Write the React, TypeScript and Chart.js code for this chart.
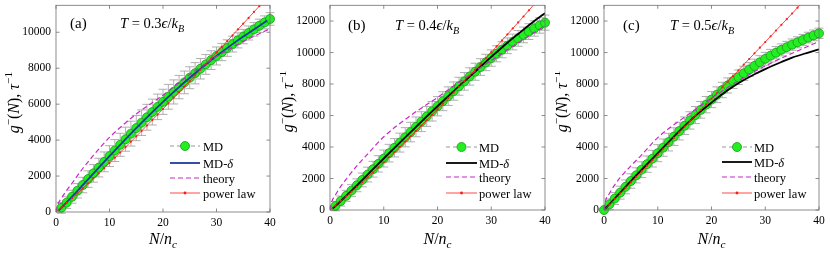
import React, { useEffect, useRef } from "react";
import { Chart, registerables } from "chart.js";
Chart.register(...registerables);

// ---------- data ----------
const MD_N_AB = [1,2,3,4,5,6,7,8,9,10,11,12,13,14,15,16,17,18,19,20,21,22,23,24,25,26,27,28,29,30,31,32,33,34,35,36,37,38,39,40];
const MD_N_C = [0,1,2,3,4,5,6,7,8,9,10,11,12,13,14,15,16,17,18,19,20,21,22,23,24,25,26,27,28,29,30,31,32,33,34,35,36,37,38,39,40];
const PL_N = [0,1,2,3,4,5,6,7,8,9,10,11,12,13,14,15,16,17,18,19,20,21,22,23,24,25,26,27,28,29,30,31,32,33,34,35,36,37,38,39,40];

const X_TICKS = [0, 10, 20, 30, 40];
const Y_TICKS_A = [0, 2000, 4000, 6000, 8000, 10000];
const Y_TICKS_BC = [0, 2000, 4000, 6000, 8000, 10000, 12000];

// panel (a)
const MD_A = [230,520,850,1180,1500,1830,2150,2470,2790,3110,3420,3740,4050,4360,4670,4970,5270,5560,5850,6130,6410,6680,6950,7210,7470,7720,7970,8210,8450,8680,8900,9120,9340,9550,9760,9960,10160,10360,10550,10740];
const ERR_A = [300,330,360,400,430,460,490,520,550,580,610,640,670,690,700,710,720,720,710,700,690,670,650,630,610,590,570,550,520,500,480,460,440,420,400,390,380,370,360,350];
const DELTA_A_N = [0.5,1,3,5,8,10,13,15,18,20,23,25,28,30,33,35,37,39.5];
const DELTA_A = [90,230,850,1500,2470,3110,4050,4670,5560,6130,6950,7470,8210,8680,9340,9760,10160,10650];
const THEORY_A_N = [0,0.3,1,2,3,5,7,10,15,20,25,30,35,40];
const THEORY_A = [0,380,760,1200,1600,2420,3150,4150,5450,6500,7650,8650,9480,10200];
const POWER_A = [0,245,505,770,1040,1310,1590,1870,2150,2440,2730,3020,3310,3610,3910,4210,4510,4810,5120,5420,5730,6040,6350,6660,6970,7290,7600,7920,8240,8550,8870,9190,9510,9830,10160,10480,10800,11130,11450,11780,12100];

// panel (b)
const MD_B = [250,570,900,1230,1570,1910,2250,2590,2930,3270,3610,3950,4280,4620,4950,5280,5610,5940,6270,6590,6910,7230,7550,7860,8170,8480,8780,9080,9370,9650,9920,10180,10430,10670,10900,11120,11330,11530,11720,11900];
const ERR_B = [300,320,350,380,410,440,470,500,520,540,560,580,600,610,620,630,630,630,620,610,600,590,580,570,560,550,540,530,520,520,510,510,500,500,500,500,500,490,490,480];
const DELTA_B_N = [0.5,1,3,5,8,10,13,15,18,20,23,25,28,30,33,35,38,40];
const DELTA_B = [100,250,900,1570,2590,3270,4280,4950,5940,6590,7550,8170,9100,9720,10620,11180,12000,12500];
const THEORY_B_N = [0,0.3,1,2,3,5,7,10,15,20,25,28,30,35,40];
const THEORY_B = [0,500,950,1500,1950,2800,3550,4650,6000,7150,8350,9050,9500,10620,11700];
const POWER_B = [0,280,570,860,1160,1460,1770,2080,2390,2710,3030,3350,3680,4010,4340,4680,5020,5360,5700,6050,6400,6750,7100,7460,7820,8180,8540,8910,9280,9650,10020,10390,10770,11150,11530,11910,12290,12680,13070,13460,13850];

// panel (c)
const MD_C = [0,360,730,1100,1470,1840,2200,2560,2910,3260,3610,3960,4310,4660,5010,5350,5690,6030,6360,6690,7010,7320,7620,7910,8190,8430,8680,8920,9150,9380,9600,9800,9990,10170,10340,10500,10650,10800,10950,11090,11220];
const ERR_C = [100,350,380,410,440,460,480,500,520,530,540,550,560,560,560,560,550,540,530,520,510,500,490,480,470,460,450,440,430,420,410,400,390,380,370,360,350,350,340,340,330];
const DELTA_C_N = [0,2,5,8,10,13,15,17,20,23,25,28,30,33,35,38,40];
const DELTA_C = [0,730,1840,2910,3610,4660,5340,5980,6820,7600,8050,8620,8950,9400,9680,10000,10200];
const THEORY_C_N = [0,0.3,1,2,3,5,7,10,15,20,22,25,30,35,40];
const THEORY_C = [0,600,1050,1600,2050,2800,3500,4600,5900,7100,7550,8200,9150,9950,10700];
const POWER_C = [0,350,700,1050,1400,1750,2100,2450,2800,3160,3510,3870,4220,4580,4930,5290,5640,6000,6360,6710,7070,7430,7790,8150,8510,8870,9230,9590,9950,10310,10670,11030,11400,11760,12120,12480,12850,13210,13580,13940,14310];

const LEGEND_LABELS = ["MD", "MD-", "theory", "power law"];

// ---------- styling ----------
const FONT = '"Liberation Serif", "Times New Roman", serif';
const GREEN = "#22ee22";
const GREEN_EDGE = "#179a17";
const GRAY_LINE = "#8c8c8c";
const ERR_COLOR = "#a6a6a6";
const MAGENTA = "#c828c8";
const RED = "#ff1a1a";
const FRAME = "#707070";

type Run = { t: string; it?: boolean; sub?: boolean; sup?: boolean };

function runFont(r: Run, size: number) {
  const s = r.sub || r.sup ? size * 0.7 : size;
  return `${r.it ? "italic " : ""}${s}px ${FONT}`;
}
function drawRuns(ctx: CanvasRenderingContext2D, runs: Run[], x: number, y: number, size: number, align: "left" | "center") {
  let w = 0;
  for (const r of runs) { ctx.font = runFont(r, size); w += ctx.measureText(r.t).width; }
  let cx = align === "center" ? x - w / 2 : x;
  ctx.textAlign = "left";
  ctx.textBaseline = "alphabetic";
  ctx.fillStyle = "#000";
  for (const r of runs) {
    ctx.font = runFont(r, size);
    const dy = r.sub ? size * 0.25 : r.sup ? -size * 0.42 : 0;
    ctx.fillText(r.t, cx, y + dy);
    cx += ctx.measureText(r.t).width;
  }
}

type Spec = {
  left: number; w: number;
  yw: number; xh: number; padR: number; padT: number;
  yMax: number; yTicks: number[];
  mdN: number[]; md: number[]; err: number[];
  dN: number[]; d: number[]; dColor: string;
  tN: number[]; t: number[];
  pl: number[];
  tag: string; temp: string;
  tagX: number; tempX: number; textY: number;
  legX0: number; legX1: number; legTx: number; legRows: number[];
};

const pts = (xs: number[], ys: number[]) => xs.map((x, i) => ({ x, y: ys[i] }));

function buildConfig(s: Spec): any {
  const plugin = {
    id: "matlabStyle",
    beforeDatasetsDraw(chart: any) {
      const ctx = chart.ctx as CanvasRenderingContext2D;
      const xs = chart.scales.x, ys = chart.scales.y;
      ctx.save();
      ctx.strokeStyle = ERR_COLOR;
      ctx.lineWidth = 0.9;
      s.mdN.forEach((n, i) => {
        const px = xs.getPixelForValue(n);
        const y1 = ys.getPixelForValue(s.md[i] - s.err[i]);
        const y2 = ys.getPixelForValue(s.md[i] + s.err[i]);
        ctx.beginPath();
        ctx.moveTo(px, y1); ctx.lineTo(px, y2);
        ctx.moveTo(px - 4.5, y1); ctx.lineTo(px + 4.5, y1);
        ctx.moveTo(px - 4.5, y2); ctx.lineTo(px + 4.5, y2);
        ctx.stroke();
      });
      ctx.restore();
    },
    afterDraw(chart: any) {
      const ctx = chart.ctx as CanvasRenderingContext2D;
      const { left, right, top, bottom } = chart.chartArea;
      const xs = chart.scales.x, ys = chart.scales.y;
      ctx.save();
      // frame
      ctx.strokeStyle = FRAME;
      ctx.lineWidth = 0.8;
      ctx.strokeRect(left, top, right - left, bottom - top);
      // inward ticks
      ctx.beginPath();
      for (const v of X_TICKS) {
        const px = xs.getPixelForValue(v);
        ctx.moveTo(px, bottom); ctx.lineTo(px, bottom - 3.5);
        ctx.moveTo(px, top); ctx.lineTo(px, top + 3.5);
      }
      for (const v of s.yTicks) {
        const py = ys.getPixelForValue(v);
        ctx.moveTo(left, py); ctx.lineTo(left + 3.5, py);
        ctx.moveTo(right, py); ctx.lineTo(right - 3.5, py);
      }
      ctx.stroke();

      // axis titles
      drawRuns(ctx, [{ t: "N", it: true }, { t: "/" }, { t: "n", it: true }, { t: "c", it: true, sub: true }], (left + right) / 2, 244, 16, "center");
      ctx.save();
      ctx.translate(left - 42, (top + bottom) / 2 - 6);
      ctx.rotate(-Math.PI / 2);
      drawRuns(ctx, [{ t: "g", it: true }, { t: "−", sup: true }, { t: "(" }, { t: "N", it: true }, { t: "), " }, { t: "τ", it: true }, { t: "−1", sup: true }], 0, 5, 16, "center");
      ctx.restore();

      // annotations
      drawRuns(ctx, [{ t: s.tag }], s.tagX, s.textY, 15, "left");
      drawRuns(ctx, [{ t: "T", it: true }, { t: " = " + s.temp }, { t: "ϵ", it: true }, { t: "/" }, { t: "k", it: true }, { t: "B", it: true, sub: true }], s.tempX, s.textY, 14.5, "left");

      // legend
      const x0 = s.legX0, x1 = s.legX1, xm = (x0 + x1) / 2;
      const r = s.legRows;
      ctx.setLineDash([4, 3]);
      ctx.strokeStyle = GRAY_LINE; ctx.lineWidth = 0.9;
      ctx.beginPath(); ctx.moveTo(x0, r[0]); ctx.lineTo(x1, r[0]); ctx.stroke();
      ctx.setLineDash([]);
      ctx.fillStyle = GREEN; ctx.strokeStyle = GREEN_EDGE; ctx.lineWidth = 0.8;
      ctx.beginPath(); ctx.arc(xm, r[0], 4.5, 0, Math.PI * 2); ctx.fill(); ctx.stroke();
      ctx.strokeStyle = s.dColor; ctx.lineWidth = 1.8;
      ctx.beginPath(); ctx.moveTo(x0, r[1]); ctx.lineTo(x1, r[1]); ctx.stroke();
      ctx.setLineDash([5, 3]);
      ctx.strokeStyle = MAGENTA; ctx.lineWidth = 1.2;
      ctx.beginPath(); ctx.moveTo(x0, r[2]); ctx.lineTo(x1, r[2]); ctx.stroke();
      ctx.setLineDash([]);
      ctx.strokeStyle = RED; ctx.lineWidth = 0.8;
      ctx.beginPath(); ctx.moveTo(x0, r[3]); ctx.lineTo(x1, r[3]); ctx.stroke();
      ctx.fillStyle = RED;
      ctx.beginPath(); ctx.arc(xm, r[3], 1.4, 0, Math.PI * 2); ctx.fill();
      drawRuns(ctx, [{ t: LEGEND_LABELS[0] }], s.legTx, r[0] + 4.5, 12.5, "left");
      drawRuns(ctx, [{ t: LEGEND_LABELS[1] }, { t: "δ", it: true }], s.legTx, r[1] + 4.5, 12.5, "left");
      drawRuns(ctx, [{ t: LEGEND_LABELS[2] }], s.legTx, r[2] + 4.5, 12.5, "left");
      drawRuns(ctx, [{ t: LEGEND_LABELS[3] }], s.legTx, r[3] + 4.5, 12.5, "left");
      ctx.restore();
    },
  };

  const tickFont = { family: FONT, size: 11.5 };
  return {
    type: "line",
    data: {
      datasets: [
        {
          label: "power law", data: pts(PL_N, s.pl), borderColor: RED, borderWidth: 0.8,
          pointRadius: 1.1, pointBackgroundColor: RED, pointBorderWidth: 0, fill: false,
        },
        {
          label: "theory", data: pts(s.tN, s.t), borderColor: MAGENTA, borderWidth: 1.2,
          borderDash: [5, 3], pointRadius: 0, cubicInterpolationMode: "monotone", fill: false,
        },
        {
          label: "MD-δ", data: pts(s.dN, s.d), borderColor: s.dColor, borderWidth: 1.8,
          pointRadius: 0, cubicInterpolationMode: "monotone", fill: false,
        },
        {
          label: "MD", data: pts(s.mdN, s.md), borderColor: GRAY_LINE, borderWidth: 0.8,
          borderDash: [4, 3], pointRadius: 4.5, pointBackgroundColor: GREEN,
          pointBorderColor: GREEN_EDGE, pointBorderWidth: 0.8, fill: false, clip: false,
        },
      ],
    },
    options: {
      animation: false,
      responsive: false,
      devicePixelRatio: 1,
      events: [],
      layout: { padding: { left: 0, right: s.padR, top: s.padT, bottom: 0 } },
      plugins: { legend: { display: false }, tooltip: { enabled: false } },
      scales: {
        x: {
          type: "linear", min: 0, max: 40,
          grid: { display: false, drawTicks: false },
          border: { display: false },
          ticks: { font: tickFont, color: "#000", padding: 4, maxRotation: 0, callback: (v: any) => String(v) },
          afterBuildTicks: (sc: any) => { sc.ticks = X_TICKS.map((v) => ({ value: v })); },
          afterFit: (sc: any) => { sc.height = s.xh; sc.paddingLeft = 0; sc.paddingRight = 0; },
        },
        y: {
          type: "linear", min: 0, max: s.yMax,
          grid: { display: false, drawTicks: false },
          border: { display: false },
          ticks: { font: tickFont, color: "#000", padding: 5, callback: (v: any) => String(v) },
          afterBuildTicks: (sc: any) => { sc.ticks = s.yTicks.map((v) => ({ value: v })); },
          afterFit: (sc: any) => { sc.width = s.yw; sc.paddingTop = 0; sc.paddingBottom = 0; },
        },
      },
    },
    plugins: [plugin],
  };
}

const PANELS: Spec[] = [
  {
    left: 0, w: 280, yw: 56, xh: 41, padR: 10, padT: 4, yMax: 11500, yTicks: Y_TICKS_A,
    mdN: MD_N_AB, md: MD_A, err: ERR_A, dN: DELTA_A_N, d: DELTA_A, dColor: "#1c3a9e",
    tN: THEORY_A_N, t: THEORY_A, pl: POWER_A, tag: "(a)", temp: "0.3",
    tagX: 70, tempX: 120, textY: 28, legX0: 170, legX1: 200, legTx: 203, legRows: [146, 163, 178, 193],
  },
  {
    left: 280, w: 275, yw: 50, xh: 43, padR: 10, padT: 4, yMax: 13000, yTicks: Y_TICKS_BC,
    mdN: MD_N_AB, md: MD_B, err: ERR_B, dN: DELTA_B_N, d: DELTA_B, dColor: "#000000",
    tN: THEORY_B_N, t: THEORY_B, pl: POWER_B, tag: "(b)", temp: "0.4",
    tagX: 68, tempX: 115, textY: 30, legX0: 166, legX1: 197, legTx: 199, legRows: [147, 163, 177, 193],
  },
  {
    left: 555, w: 275, yw: 49, xh: 43, padR: 11, padT: 4, yMax: 13000, yTicks: Y_TICKS_BC,
    mdN: MD_N_C, md: MD_C, err: ERR_C, dN: DELTA_C_N, d: DELTA_C, dColor: "#000000",
    tN: THEORY_C_N, t: THEORY_C, pl: POWER_C, tag: "(c)", temp: "0.5",
    tagX: 68, tempX: 115, textY: 30, legX0: 167, legX1: 197, legTx: 199, legRows: [147, 162, 177, 193],
  },
];

function Panel({ spec }: { spec: Spec }) {
  const ref = useRef<HTMLCanvasElement>(null);
  useEffect(() => {
    if (!ref.current) return;
    const chart = new Chart(ref.current, buildConfig(spec));
    return () => chart.destroy();
  }, [spec]);
  return (
    <canvas
      ref={ref}
      width={spec.w}
      height={253}
      style={{ position: "absolute", left: spec.left, top: 0, width: spec.w, height: 253 }}
    />
  );
}

export default function App() {
  return (
    <div style={{ position: "fixed", left: 0, top: 0, width: 830, height: 253, background: "#fff", overflow: "hidden" }}>
      {PANELS.map((p) => (
        <Panel key={p.tag} spec={p} />
      ))}
    </div>
  );
}
